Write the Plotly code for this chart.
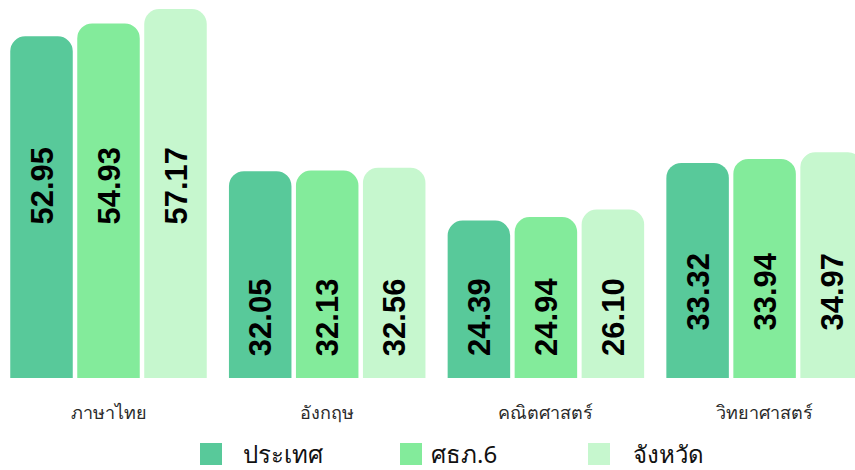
import plotly.graph_objects as go

categories = ["ภาษาไทย", "อังกฤษ", "คณิตศาสตร์", "วิทยาศาสตร์"]
series_names = ["ประเทศ", "ศธภ.6", "จังหวัด"]
values_country = [52.95, 32.05, 24.39, 33.32]
values_region = [54.93, 32.13, 24.94, 33.94]
values_province = [57.17, 32.56, 26.10, 34.97]

series_values = [values_country, values_region, values_province]
colors = ["#58C99A", "#83EB9B", "#C6F7CE"]

W, H = 855, 470
PLOT_BOTTOM = 378  # pixel of baseline
ML, MR, MT, MB = 0, 0, 0, H - PLOT_BOTTOM

fig = go.Figure()
for name, vals, col in zip(series_names, series_values, colors):
    fig.add_trace(go.Bar(
        x=categories, y=vals, name=name,
        marker=dict(color=col, line=dict(width=0)),
        showlegend=False, hoverinfo="x+y+name",
    ))

# value labels (rotated, bold) anchored near bar bottoms
label_lift = {0: 151, 1: 20, 2: 20, 3: 45}  # pixel offsets above baseline
slot_px = 67
for j, vals in enumerate(series_values):
    for i, (cat, v) in enumerate(zip(categories, vals)):
        fig.add_annotation(
            x=cat, y=0, xref="x", yref="y",
            xshift=(j - 1) * slot_px, yshift=label_lift[i],
            text=f"{v:.2f}", textangle=-90, showarrow=False,
            xanchor="center", yanchor="bottom",
            font=dict(family="Liberation Sans, Arial, sans-serif", size=31, color="#000000", weight="bold"),
        )

# custom legend (big squares)
def px_to_paper_x(px):
    return (px - ML) / (W - ML - MR)

def px_to_paper_y(py):
    return (PLOT_BOTTOM - py) / (PLOT_BOTTOM - MT)

legend_sq_x = [200, 400, 588]
legend_txt_x = [241, 429, 631]
for name, col, sx, tx in zip(series_names, colors, legend_sq_x, legend_txt_x):
    fig.add_shape(type="rect", xref="paper", yref="paper",
                  x0=px_to_paper_x(sx), x1=px_to_paper_x(sx + 22),
                  y0=px_to_paper_y(465), y1=px_to_paper_y(443),
                  fillcolor=col, line=dict(width=0))
    fig.add_annotation(xref="paper", yref="paper",
                       x=px_to_paper_x(tx), y=px_to_paper_y(454),
                       text=name, showarrow=False, xanchor="left", yanchor="middle",
                       font=dict(family="Noto Sans, sans-serif", size=24, color="#111111"))

cat_px = 218.7
first_center = 108.5
fig.update_layout(
    width=W, height=H,
    margin=dict(l=ML, r=MR, t=MT, b=MB),
    paper_bgcolor="white", plot_bgcolor="white",
    barmode="group", bargap=0.081, bargroupgap=0.067,
    barcornerradius=15,
    showlegend=False,
    xaxis=dict(
        range=[-first_center / cat_px, (W - first_center) / cat_px],
        showgrid=False, zeroline=False, showline=False,
        ticks="outside", ticklen=18, tickcolor="rgba(0,0,0,0)",
        tickfont=dict(family="Noto Sans, sans-serif", size=18, color="#2a2a2a"),
    ),
    yaxis=dict(
        range=[0, 57.17 * PLOT_BOTTOM / 369],
        showgrid=False, zeroline=False, showline=False, showticklabels=False,
    ),
)

fig.write_html(
    "out.html",
    config={"displayModeBar": False},
    post_script="document.body.style.margin='0';document.body.style.overflow='hidden';",
)
